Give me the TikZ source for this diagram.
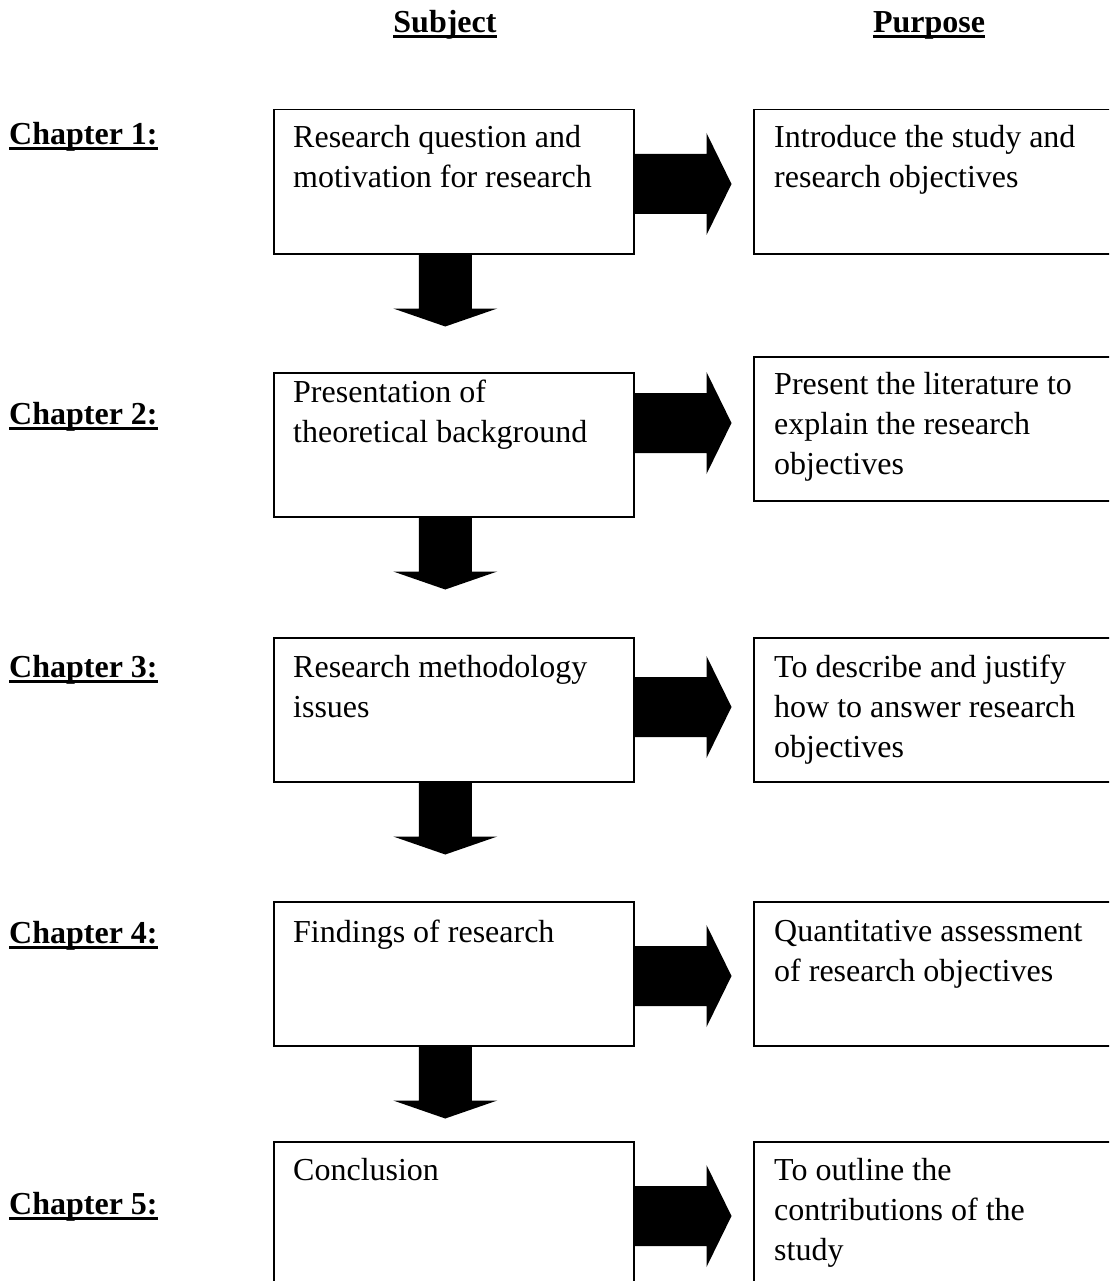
\documentclass[tikz,border=0pt]{standalone}
\usepackage{fontspec}
\setmainfont{Liberation Serif}
\begin{document}
\begin{tikzpicture}[x=1pt,y=-1pt,
  box/.style={draw, line width=1.5pt, rectangle, inner sep=0pt, minimum height=144pt, anchor=north west},
  lbox/.style={box, minimum width=360pt},
  rbox/.style={box, minimum width=420pt},
  txt/.style={inner sep=0pt, anchor=north west, align=left, font=\fontsize{32}{40}\selectfont},
  chap/.style={inner sep=0pt, anchor=base west, font=\fontsize{32}{40}\selectfont\bfseries},
  head/.style={inner sep=0pt, anchor=base, font=\fontsize{32}{40}\selectfont\bfseries},
  uline/.style={line width=3pt},
  rarrow/.pic={\fill (0,-30) -- (72,-30) -- (72,-51) -- (97,0) -- (72,51) -- (72,30) -- (0,30) -- cycle;},
  darrow/.pic={\fill (-26.5,0) -- (-26.5,54) -- (-52,54) -- (0,72) -- (52,54) -- (26.5,54) -- (26.5,0) -- cycle;}
]
\path[use as bounding box, clip] (0,0) rectangle (1109,1281);
\fill[white] (0,0) rectangle (1109,1281);

% headers
\node[head] (hs) at (445,33) {Subject};
\node[head] (hp) at (929,33) {Purpose};
\foreach \n in {hs,hp}{\draw[uline] ([yshift=-4pt]\n.base west) -- ([yshift=-4pt]\n.base east);}

% chapter labels
\node[chap] (c1) at (9,145) {Chapter 1:};
\node[chap] (c2) at (9,424) {Chapter 2:};
\node[chap] (c3) at (9,677) {Chapter 3:};
\node[chap] (c4) at (9,943) {Chapter 4:};
\node[chap] (c5) at (9,1214) {Chapter 5:};
\foreach \n in {c1,c2,c3,c4,c5}{\draw[uline] ([yshift=-4pt]\n.base west) -- ([yshift=-4pt]\n.base east);}

% subject boxes
\node[lbox] (L1) at (273,109) {};
\node[lbox] (L2) at (273,372) {};
\node[lbox] (L3) at (273,637) {};
\node[lbox] (L4) at (273,901) {};
\node[lbox] (L5) at (273,1141) {};

% purpose boxes
\node[rbox] (R1) at (753,109) {};
\node[rbox] (R2) at (753,356) {};
\node[rbox] (R3) at (753,637) {};
\node[rbox] (R4) at (753,901) {};
\node[rbox] (R5) at (753,1141) {};

% subject texts
\node[txt] (TL1) at ([shift={(20pt,-16pt)}]L1.north west) {Research question and\\motivation for research};
\node[txt] (TL2) at ([shift={(20pt,-8pt)}]L2.north west) {Presentation of\\theoretical background};
\node[txt] (TL3) at ([shift={(20pt,-18pt)}]L3.north west) {Research methodology\\issues};
\node[txt] (TL4) at ([shift={(20pt,-19pt)}]L4.north west) {Findings of research};
\node[txt] (TL5) at ([shift={(20pt,-17pt)}]L5.north west) {Conclusion};

% purpose texts
\node[txt] (TR1) at ([shift={(21pt,-16pt)}]R1.north west) {Introduce the study and\\research objectives};
\node[txt] (TR2) at ([shift={(21pt,-16pt)}]R2.north west) {Present the literature to\\explain the research\\objectives};
\node[txt] (TR3) at ([shift={(21pt,-18pt)}]R3.north west) {To describe and justify\\how to answer research\\objectives};
\node[txt] (TR4) at ([shift={(21pt,-19pt)}]R4.north west) {Quantitative assessment\\of research objectives};
\node[txt] (TR5) at ([shift={(21pt,-17pt)}]R5.north west) {To outline the\\contributions of the\\study};

% right arrows
\pic (A1) at (L1.east |- 0,184) {rarrow};
\pic (A2) at (L2.east |- 0,423) {rarrow};
\pic (A3) at (L3.east |- 0,707) {rarrow};
\pic (A4) at (L4.east |- 0,976) {rarrow};
\pic (A5) at (L5.east |- 0,1216) {rarrow};

% down arrows
\pic (D1) at ([xshift=-8.5pt]L1.south) {darrow};
\pic (D2) at ([xshift=-8.5pt]L2.south) {darrow};
\pic (D3) at ([xshift=-8.5pt]L3.south) {darrow};
\pic (D4) at ([xshift=-8.5pt]L4.south) {darrow};
\end{tikzpicture}
\end{document}
